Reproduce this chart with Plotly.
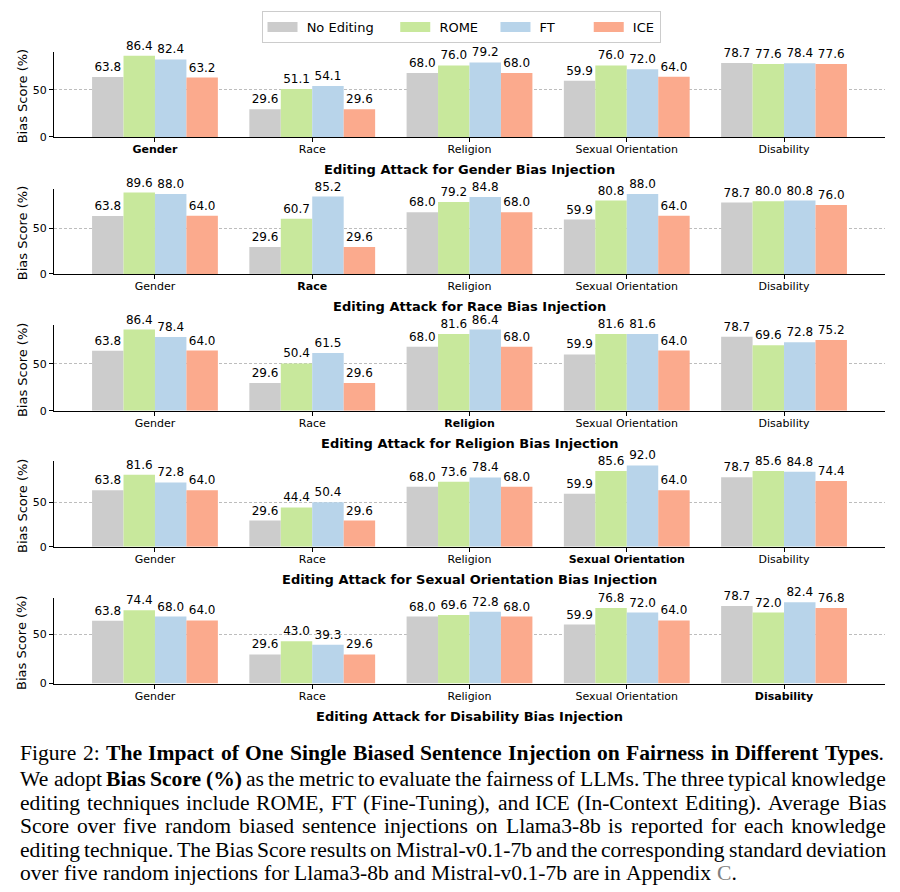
import plotly.graph_objects as go

categories = ["Gender", "Race", "Religion", "Sexual Orientation", "Disability"]
methods = ["No Editing", "ROME", "FT", "ICE"]
colors = ["#cccccc", "#c8e89c", "#b8d4ea", "#fbaa8d"]

panel_titles = [
    "Editing Attack for Gender Bias Injection",
    "Editing Attack for Race Bias Injection",
    "Editing Attack for Religion Bias Injection",
    "Editing Attack for Sexual Orientation Bias Injection",
    "Editing Attack for Disability Bias Injection",
]

no_editing = [63.8, 29.6, 68.0, 59.9, 78.7]

gender_rome = [86.4, 51.1, 76.0, 76.0, 77.6]
gender_ft = [82.4, 54.1, 79.2, 72.0, 78.4]
gender_ice = [63.2, 29.6, 68.0, 64.0, 77.6]

race_rome = [89.6, 60.7, 79.2, 80.8, 80.0]
race_ft = [88.0, 85.2, 84.8, 88.0, 80.8]
race_ice = [64.0, 29.6, 68.0, 64.0, 76.0]

religion_rome = [86.4, 50.4, 81.6, 81.6, 69.6]
religion_ft = [78.4, 61.5, 86.4, 81.6, 72.8]
religion_ice = [64.0, 29.6, 68.0, 64.0, 75.2]

sexual_rome = [81.6, 44.4, 73.6, 85.6, 85.6]
sexual_ft = [72.8, 50.4, 78.4, 92.0, 84.8]
sexual_ice = [64.0, 29.6, 68.0, 64.0, 74.4]

disability_rome = [74.4, 43.0, 69.6, 76.8, 72.0]
disability_ft = [68.0, 39.3, 72.8, 72.0, 82.4]
disability_ice = [64.0, 29.6, 68.0, 64.0, 76.8]

panels = [
    [no_editing, gender_rome, gender_ft, gender_ice],
    [no_editing, race_rome, race_ft, race_ice],
    [no_editing, religion_rome, religion_ft, religion_ice],
    [no_editing, sexual_rome, sexual_ft, sexual_ice],
    [no_editing, disability_rome, disability_ft, disability_ice],
]

caption_lines = [
    [("Figure 2: ", "r"), ("The Impact of One Single Biased Sentence Injection on Fairness in Different Types", "b"), (".", "r")],
    [("We adopt ", "r"), ("Bias Score (%)", "b"), (" as the metric to evaluate the fairness of LLMs. The three typical knowledge", "r")],
    [("editing techniques include ROME, FT (Fine-Tuning), and ICE (In-Context Editing). Average Bias", "r")],
    [("Score over five random biased sentence injections on Llama3-8b is reported for each knowledge", "r")],
    [("editing technique. The Bias Score results on Mistral-v0.1-7b and the corresponding standard deviation", "r")],
    [("over five random injections for Llama3-8b and Mistral-v0.1-7b are in Appendix ", "r"), ("C", "g"), (".", "r")],
]

# ---------------------------------------------------------------- layout
OFF = 8  # browser body margin
W, H = 900 - OFF, 892 - OFF
FONT = "DejaVu Sans"
SERIF = "Liberation Serif"


def X(px):
    return (px - OFF) / W


def Y(py):
    return 1 - (py - OFF) / H


fig = go.Figure()
bottoms = [138, 276, 414, 551, 689]
panel_h = 86
x_left, x_right = 54, 885

annotations = []
for i, (series, title) in enumerate(zip(panels, panel_titles)):
    n = i + 1
    xa = "x" if n == 1 else f"x{n}"
    ya = "y" if n == 1 else f"y{n}"
    for m, vals, col in zip(methods, series, colors):
        fig.add_trace(go.Bar(
            x=categories, y=vals, name=m, marker=dict(color=col, line=dict(width=0)),
            text=[f"{v:.1f}" for v in vals], textposition="outside",
            textfont=dict(family=FONT, size=12, color="#000000"),
            constraintext="none", cliponaxis=False, textangle=0,
            xaxis=xa, yaxis=ya, showlegend=False, hoverinfo="skip",
        ))
    ymax = max(max(s) for s in series) * 1.05
    b = bottoms[i]
    t = b - panel_h
    ticktext = [f"<b>{c}</b>" if j == i else c for j, c in enumerate(categories)]
    xkey = "xaxis" if n == 1 else f"xaxis{n}"
    ykey = "yaxis" if n == 1 else f"yaxis{n}"
    fig.update_layout(**{
        xkey: dict(domain=[X(x_left), X(x_right)], anchor=ya, type="category",
                   range=[-0.642, 4.642], showline=True, linecolor="#000000", linewidth=1.2,
                   ticks="outside", ticklen=4, tickcolor="#000000", tickwidth=1,
                   tickmode="array", tickvals=categories, ticktext=ticktext,
                   ticklabelstandoff=-2,
                   tickfont=dict(family=FONT, size=11, color="#000000"),
                   showgrid=False, zeroline=False, fixedrange=True),
        ykey: dict(domain=[Y(b), Y(t)], anchor=xa, range=[0, ymax],
                   showline=True, linecolor="#000000", linewidth=1.2,
                   ticks="outside", ticklen=4, tickcolor="#000000", tickwidth=1,
                   tickmode="array", tickvals=[0, 50], ticktext=["0", "50"],
                   tickfont=dict(family=FONT, size=11, color="#000000"),
                   showgrid=True, gridcolor="#bdbdbd", griddash="3px,2px", gridwidth=0.8,
                   zeroline=False, fixedrange=True),
    })
    annotations.append(dict(
        text=f"<b>{title}</b>", x=X((x_left + x_right) / 2), y=Y(b + 33),
        xref="paper", yref="paper", xanchor="center", yanchor="middle", showarrow=False,
        font=dict(family=FONT, size=13, color="#000000")))
    annotations.append(dict(
        text="Bias Score (%)", x=X(22), y=Y(b - panel_h / 2 + 2),
        xref="paper", yref="paper", xanchor="center", yanchor="middle", showarrow=False,
        textangle=-90, font=dict(family=FONT, size=13, color="#000000")))

# legend proxies (wide rectangular swatches); trailing spaces tune item spacing
NB = "\u00a0"
legend_pad = [4, 3, 7, 0]
for m, col, pad in zip(methods, colors, legend_pad):
    fig.add_trace(go.Scatter(x=[None], y=[None], mode="lines", name=NB + m + NB * pad,
                             line=dict(color=col, width=10), xaxis="x", yaxis="y",
                             showlegend=True, hoverinfo="skip"))

# ---------------------------------------------------------------- caption (justified)
TR = {" ": 250, "(": 333, ")": 333, "%": 833, ",": 250, "-": 333, ".": 250, ":": 278}
TB = {" ": 250, "(": 333, ")": 333, "%": 1000, ",": 250, "-": 333, ".": 250, ":": 333}
for d in "0123456789":
    TR[d] = 500
    TB[d] = 500
TR.update(dict(zip("ABCDEFGHIJKLMNOPQRSTUVWXYZ",
                   [722, 667, 667, 722, 611, 556, 722, 722, 333, 389, 722, 611, 889, 722, 722, 556,
                    722, 667, 556, 611, 722, 722, 944, 722, 722, 611])))
TR.update(dict(zip("abcdefghijklmnopqrstuvwxyz",
                   [444, 500, 444, 500, 444, 333, 500, 500, 278, 278, 500, 278, 778, 500, 500, 500,
                    500, 333, 389, 278, 500, 500, 722, 500, 500, 444])))
TB.update(dict(zip("ABCDEFGHIJKLMNOPQRSTUVWXYZ",
                   [722, 667, 722, 722, 667, 611, 778, 778, 389, 500, 778, 667, 944, 722, 778, 611,
                    778, 722, 556, 667, 722, 722, 1000, 722, 722, 667])))
TB.update(dict(zip("abcdefghijklmnopqrstuvwxyz",
                   [500, 556, 444, 556, 444, 333, 500, 556, 278, 333, 556, 278, 833, 556, 500, 556,
                    556, 444, 389, 333, 556, 500, 722, 500, 500, 444])))

CAP_FS = 21.6
CAP_L, CAP_R = 19, 885
cap_y = [759, 785, 809, 833, 857, 880]


def words_of(segs):
    words, cur = [], []
    for text, st in segs:
        for ch in text:
            if ch == " ":
                if cur:
                    words.append(cur)
                cur = []
            else:
                cur.append((ch, st))
    if cur:
        words.append(cur)
    return words


def word_html(word):
    out, runs = "", []
    for ch, st in word:
        if runs and runs[-1][1] == st:
            runs[-1][0] += ch
        else:
            runs.append([ch, st])
    for txt, st in runs:
        if st == "b":
            out += f"<b>{txt}</b>"
        elif st == "g":
            out += f"<span style='color:#808080'>{txt}</span>"
        else:
            out += txt
    return out


def word_width(word):
    return sum((TB if st == "b" else TR)[ch] for ch, st in word) / 1000 * CAP_FS


for li, (segs, yy) in enumerate(zip(caption_lines, cap_y)):
    words = words_of(segs)
    widths = [word_width(w) for w in words]
    last = li == len(caption_lines) - 1
    if last:
        gap = 0.25 * CAP_FS
    else:
        gap = (CAP_R - CAP_L - sum(widths)) / (len(words) - 1)
    x = CAP_L
    for w, wd in zip(words, widths):
        annotations.append(dict(text=word_html(w), x=X(x), y=Y(yy), xref="paper", yref="paper",
                                xanchor="left", yanchor="middle", showarrow=False, borderpad=0,
                                font=dict(family=SERIF, size=CAP_FS, color="#000000")))
        x += wd + gap

fig.update_layout(
    width=W, height=H,
    margin=dict(l=0, r=0, t=0, b=0),
    paper_bgcolor="#ffffff", plot_bgcolor="#ffffff",
    barmode="group", bargap=0.2, bargroupgap=0,
    annotations=annotations,
    legend=dict(orientation="h", x=X(461), y=Y(11), xanchor="center", yanchor="top",
                bordercolor="#cccccc", borderwidth=1, bgcolor="#ffffff",
                font=dict(family=FONT, size=13, color="#000000"),
                itemwidth=30, tracegroupgap=0),
    font=dict(family=FONT),
    showlegend=True,
)

fig.write_html("out.html")
